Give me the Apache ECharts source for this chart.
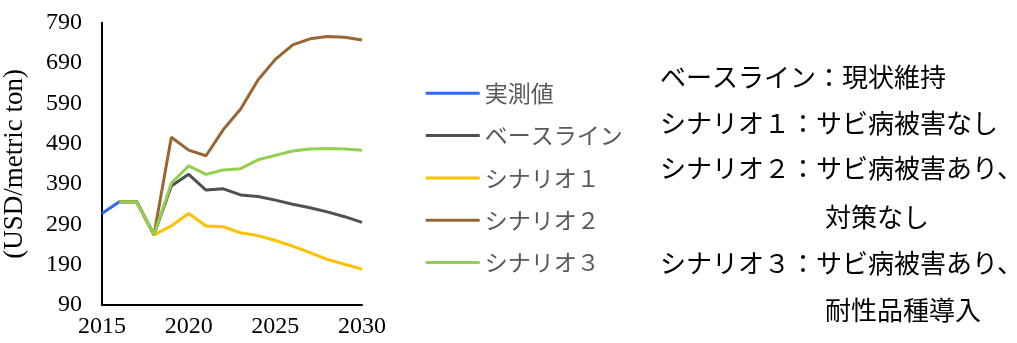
<!DOCTYPE html>
<html>
<head>
<meta charset="utf-8">
<script src="https://cdn.jsdelivr.net/npm/echarts@6/dist/echarts.min.js"></script>
<style>
html,body{margin:0;padding:0;background:#fff;}
#chart{width:1017px;height:343px;}
</style>
</head>
<body>
<div id="chart"></div>
<script>
// ---- data ----
var actualYears = [2015, 2016, 2017, 2018];
var actualValues = [317, 346, 346, 264];
var scenarioYears = [2016, 2017, 2018, 2019, 2020, 2021, 2022, 2023, 2024, 2025, 2026, 2027, 2028, 2029, 2030];
var baselineValues = [346, 346, 264, 385, 414, 375, 378, 363, 359, 350, 340, 331, 321, 309, 295];
var scenario1Values = [346, 346, 264, 286, 317, 286, 284, 269, 262, 250, 236, 220, 203, 191, 179];
var scenario2Values = [346, 346, 264, 506, 474, 460, 525, 576, 648, 699, 735, 750, 756, 754, 747];
var scenario3Values = [346, 346, 264, 392, 435, 414, 425, 428, 450, 461, 472, 477, 478, 477, 474];
var seriesNames = ['実測値', 'ベースライン', 'シナリオ１', 'シナリオ２', 'シナリオ３'];
var yTickLabels = [90, 190, 290, 390, 490, 590, 690, 790];
var xTickLabels = [2015, 2020, 2025, 2030];
var yAxisTitle = '(USD/metric ton)';
var noteLines = [
  'ベースライン：現状維持',
  'シナリオ１：サビ病被害なし',
  'シナリオ２：サビ病被害あり、',
  '対策なし',
  'シナリオ３：サビ病被害あり、',
  '耐性品種導入'
];

function pairs(xs, ys) { return xs.map(function (x, i) { return [x, ys[i]]; }); }

var colors = ['#3366FF', '#505050', '#FFC000', '#996633', '#92D050'];
var jp = '"Noto Sans CJK JP", "Noto Sans CJK SC", sans-serif';
var serif = '"Liberation Serif", "Times New Roman", serif';

var chart = echarts.init(document.getElementById('chart'), null, {renderer: 'canvas'});

function lineSeries(name, data, color) {
  return {
    name: name, type: 'line', data: data, symbol: 'none', showSymbol: false,
    lineStyle: {color: color, width: 3}, itemStyle: {color: color},
    animation: false, smooth: false
  };
}

var noteX = [660, 660, 660, 825, 660, 825];
var noteY = [76.7, 123, 168.5, 216.7, 263, 310];

chart.setOption({
  animation: false,
  backgroundColor: '#fff',
  grid: {left: 100, top: 22.7, right: 655, bottom: 38, containLabel: false},
  xAxis: {
    type: 'value', min: 2015, max: 2030, interval: 5,
    axisLine: {show: true, lineStyle: {color: '#000', width: 2}},
    axisTick: {show: false},
    splitLine: {show: false},
    axisLabel: {
      show: true, color: '#000', fontFamily: serif, fontSize: 24, margin: 10,
      customValues: xTickLabels,
      formatter: function (v) { return String(v); }
    }
  },
  yAxis: {
    type: 'value', min: 90, max: 790,
    name: yAxisTitle, nameLocation: 'middle', nameRotate: 90, nameGap: 74,
    nameTextStyle: {color: '#000', fontFamily: serif, fontSize: 27},
    axisLine: {show: true, lineStyle: {color: '#000', width: 2}},
    axisTick: {show: false},
    splitLine: {show: false},
    axisLabel: {
      show: true, color: '#000', fontFamily: serif, fontSize: 24, margin: 20,
      customValues: yTickLabels,
      formatter: function (v) { return String(v); }
    }
  },
  legend: {
    orient: 'vertical', left: 425.7, top: 81.8, padding: 0,
    itemWidth: 54, itemHeight: 14, itemGap: 19.3,
    icon: 'path://M0,0 L54,0 L54,3 L0,3 Z',
    textStyle: {color: '#595959', fontFamily: jp, fontSize: 23, lineHeight: 23},
    data: seriesNames
  },
  series: [
    lineSeries(seriesNames[0], pairs(actualYears, actualValues), colors[0]),
    lineSeries(seriesNames[1], pairs(scenarioYears, baselineValues), colors[1]),
    lineSeries(seriesNames[2], pairs(scenarioYears, scenario1Values), colors[2]),
    lineSeries(seriesNames[3], pairs(scenarioYears, scenario2Values), colors[3]),
    lineSeries(seriesNames[4], pairs(scenarioYears, scenario3Values), colors[4])
  ],
  graphic: noteLines.map(function (t, i) {
    return {
      type: 'text', x: noteX[i], y: noteY[i],
      style: {text: t, font: '26px ' + jp, fill: '#000', verticalAlign: 'middle', align: 'left'}
    };
  })
});
</script>
</body>
</html>
